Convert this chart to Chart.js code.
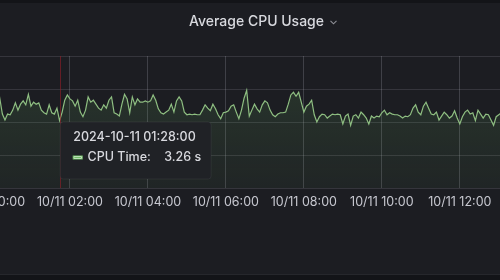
<!DOCTYPE html>
<html>
<head>
<meta charset="utf-8">
<script src="https://cdn.jsdelivr.net/npm/chart.js@4.4.1/dist/chart.umd.min.js"></script>
<style>
    html, body { margin: 0; padding: 0; }
    body { width: 500px; height: 280px; background: #131418; overflow: hidden; position: relative; font-family: Inter, sans-serif; }
    #panel { position: absolute; left: 0; top: 3px; width: 500px; height: 271px; background: #1c1d22; border-bottom: 1px solid #26272c; }
    #title { position: absolute; left: 189px; top: 11px; font-size: 14px; line-height: 20px; font-weight: 500; color: #d8d9de; white-space: nowrap; }
    #title svg { margin-left: 6px; vertical-align: 1px; }
    #wrap { position: absolute; left: -80px; top: 0; width: 680px; height: 280px; }
</style>
</head>
<body>
<div id="panel"></div>
<div id="wrap"><canvas id="cpuChart"></canvas></div>
<div id="title">Average CPU Usage<svg width="7" height="5" viewBox="0 0 7 5"><polyline points="0.5,0.8 3.5,3.8 6.5,0.8" fill="none" stroke="#8e8f96" stroke-width="1.1"/></svg></div>
<script>
// minutes since 10/11 00:00, one sample every 4 minutes
const startMinute = 0;
const stepMinutes = 4;
const cpuSeconds = [
    3.21, 3.15, 3.27, 3.36, 3.12, 3.03, 3.12, 3.11, 3.18, 3.29,
    3.18, 3.27, 3.32, 3.26, 3.42, 3.24, 3.30, 3.27, 3.29, 3.18,
    3.14, 3.12, 3.26, 3.14, 3.12, 3.21, 3.02, 3.15, 3.33, 3.41,
    3.35, 3.32, 3.24, 3.33, 3.15, 3.08, 3.18, 3.38, 3.30, 3.33,
    3.27, 3.21, 3.18, 3.26, 3.21, 3.33, 3.38, 3.14, 3.12, 3.09,
    3.27, 3.42, 3.35, 3.14, 3.38, 3.26, 3.35, 3.30, 3.30, 3.32,
    3.30, 3.32, 3.41, 3.33, 3.20, 3.14, 3.12, 3.15, 3.18, 3.27,
    3.15, 3.32, 3.38, 3.32, 3.15, 3.11, 3.12, 3.11, 3.12, 3.11,
    3.11, 3.18, 3.26, 3.21, 3.17, 3.27, 3.20, 3.11, 3.05, 3.14,
    3.15, 3.17, 3.24, 3.26, 3.15, 3.05, 3.18, 3.36, 3.48, 3.09,
    3.18, 3.27, 3.20, 3.15, 3.26, 3.32, 3.29, 3.18, 3.11, 3.08,
    3.12, 3.14, 3.14, 3.15, 3.27, 3.41, 3.45, 3.39, 3.45, 3.30,
    3.15, 3.24, 3.27, 3.33, 3.11, 3.00, 3.08, 3.12, 3.11, 3.06,
    3.09, 3.12, 3.11, 3.12, 3.11, 2.97, 3.09, 3.12, 2.95, 3.09,
    3.11, 3.06, 3.15, 3.11, 3.06, 2.97, 3.09, 3.06, 3.09, 3.08,
    3.14, 3.18, 3.11, 3.14, 3.12, 3.11, 3.11, 3.09, 3.06, 3.09,
    3.08, 3.11, 3.21, 3.26, 3.15, 3.11, 3.24, 3.30, 3.21, 3.12,
    3.11, 3.15, 3.03, 3.09, 3.15, 3.11, 3.06, 3.09, 3.17, 3.06,
    2.97, 3.08, 3.15, 3.18, 3.12, 3.14, 3.02, 3.18, 3.12, 3.06,
    3.12, 3.11, 3.03, 2.95, 3.08, 3.11, 3.14, 3.09, 3.15, 3.11,
    3.12
];
const hoverIndex = 22;        // 2024-10-11 01:28:00
const cursorMinute = 105;     // where the crosshair sits
const xMin = -80;
const xMax = 905;
const xStep = 120;
const yMin = 2;
const yMax = 4;
const yStep = 0.5;

const pad = n => String(n).padStart(2, '0');

function dayAndTime(minute) {
    const day = 11 + Math.floor(minute / 1440);
    const m = ((minute % 1440) + 1440) % 1440;
    return { day, hh: pad(Math.floor(m / 60)), mm: pad(m % 60) };
}

const points = cpuSeconds.map((v, i) => ({ x: startMinute + i * stepMinutes, y: v }));

Chart.defaults.font.family = 'Inter, sans-serif';
Chart.defaults.color = '#c7c8d0';

Chart.Tooltip.positioners.cursor = function (items) {
    const chart = this.chart;
    return {
        x: chart.scales.x.getPixelForValue(cursorMinute) + 3,
        y: chart.scales.y.getPixelForValue(3)
    };
};

const crosshair = {
    id: 'crosshair',
    afterDatasetsDraw(chart) {
        const { ctx, chartArea } = chart;
        const x = Math.round(chart.scales.x.getPixelForValue(cursorMinute)) + 0.5;
        ctx.save();
        ctx.strokeStyle = 'rgba(150, 30, 40, 0.6)';
        ctx.lineWidth = 1;
        ctx.beginPath();
        ctx.moveTo(x, chartArea.top);
        ctx.lineTo(x, chartArea.bottom);
        ctx.stroke();
        ctx.restore();
    }
};

const ctx = document.getElementById('cpuChart').getContext('2d');
const chart = new Chart(ctx, {
    type: 'line',
    data: {
        datasets: [{
            label: 'CPU Time',
            data: points,
            borderColor: '#8fbf82',
            borderWidth: 1.2,
            pointRadius: 0,
            pointHoverRadius: 0,
            tension: 0,
            fill: 'start',
            backgroundColor: (c) => {
                const area = c.chart.chartArea;
                if (!area) return 'rgba(115,191,105,0.1)';
                const g = c.chart.ctx.createLinearGradient(0, area.top, 0, area.bottom);
                g.addColorStop(0, 'rgba(115,191,105,0.17)');
                g.addColorStop(1, 'rgba(115,191,105,0.05)');
                return g;
            }
        }]
    },
    options: {
        responsive: true,
        maintainAspectRatio: false,
        animation: false,
        events: [],
        layout: { padding: { left: 20, right: 20, top: 56, bottom: 63 } },
        scales: {
            x: {
                type: 'linear',
                min: xMin,
                max: xMax,
                border: { display: false },
                grid: { color: 'rgba(204,204,220,0.2)', drawTicks: false },
                ticks: {
                    stepSize: xStep,
                    includeBounds: false,
                    autoSkip: false,
                    maxRotation: 0,
                    padding: 7,
                    font: { size: 12.5 },
                    color: '#c7c8d0',
                    callback: (v) => {
                        const t = dayAndTime(v);
                        return `10/${t.day} ${t.hh}:${t.mm}`;
                    }
                }
            },
            y: {
                min: yMin,
                max: yMax,
                border: { display: false },
                grid: { color: 'rgba(204,204,220,0.14)', drawTicks: false },
                ticks: { display: false, stepSize: yStep }
            }
        },
        plugins: {
            legend: { display: false },
            tooltip: {
                enabled: true,
                position: 'cursor',
                xAlign: 'left',
                yAlign: 'top',
                caretSize: 0,
                caretPadding: 0,
                cornerRadius: 3,
                backgroundColor: '#202226',
                borderColor: 'rgba(204,204,220,0.08)',
                borderWidth: 1,
                padding: { top: 8, bottom: 14, left: 13, right: 10 },
                titleFont: { size: 12.5, weight: 500 },
                titleColor: '#d8d9de',
                titleMarginBottom: 5,
                bodyFont: { size: 12.5, weight: 500 },
                bodyColor: '#d8d9de',
                displayColors: true,
                boxWidth: 9,
                boxHeight: 3,
                callbacks: {
                    title: (items) => {
                        const t = dayAndTime(items[0].parsed.x);
                        return `2024-10-${t.day} ${t.hh}:${t.mm}:00`;
                    },
                    label: (item) => ` ${item.dataset.label}:    ${item.parsed.y.toFixed(2)} s`,
                    labelColor: () => ({ borderColor: '#73bf69', backgroundColor: '#73bf69', borderWidth: 0 })
                }
            }
        }
    },
    plugins: [crosshair]
});

chart.tooltip.setActiveElements([{ datasetIndex: 0, index: hoverIndex }], { x: 0, y: 0 });
chart.update();
</script>
</body>
</html>
